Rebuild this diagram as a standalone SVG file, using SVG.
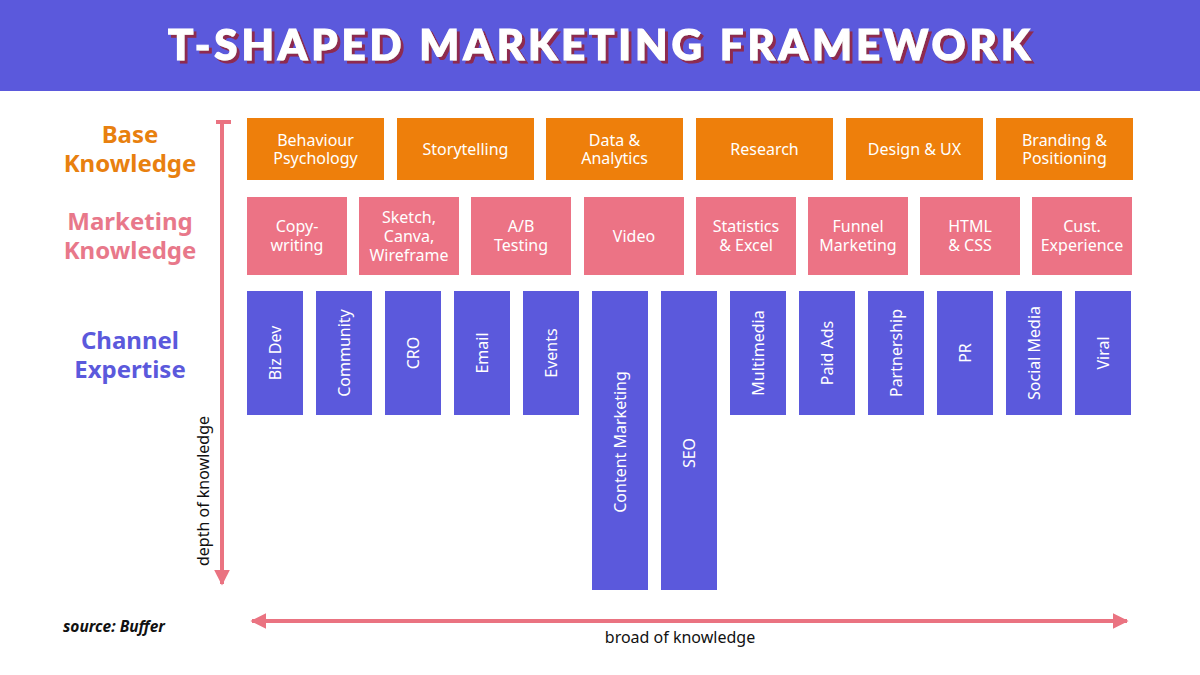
<svg xmlns="http://www.w3.org/2000/svg" width="1200" height="675" viewBox="0 0 1200 675">
<style>
.title{font-family:Lato,"DejaVu Sans",sans-serif;font-weight:900;font-size:42px;text-anchor:middle;fill:#fff;stroke:#fff;stroke-width:1.2}
.lbl{font-family:"Noto Sans","Open Sans",sans-serif;font-weight:700;font-size:24px;text-anchor:middle}
.bt{font-family:"Noto Sans","Open Sans",sans-serif;font-size:16px;fill:#fff;text-anchor:middle;dominant-baseline:central}
.ax{font-family:"Noto Sans","Open Sans",sans-serif;font-size:16px;fill:#111;text-anchor:middle}
.base{fill:#EE7F0B}
.mkt{fill:#EC7385}
.chn{fill:#5B59DC}
.arr{stroke:#EA7381;stroke-width:4;fill:none}
</style>
<defs>
<marker id="ah" viewBox="0 0 10 10" refX="9" refY="5" markerWidth="4" markerHeight="4" orient="auto-start-reverse" markerUnits="strokeWidth">
<path d="M0,0 L10,5 L0,10 Z" fill="#EA7381"/>
</marker>
<filter id="shadow" x="-5%" y="-30%" width="110%" height="160%">
<feOffset in="SourceAlpha" dx="3" dy="3" result="o"/>
<feFlood flood-color="#8E2A50"/>
<feComposite in2="o" operator="in" result="s"/>
<feMerge><feMergeNode in="s"/><feMergeNode in="SourceGraphic"/></feMerge>
</filter>
</defs>
<rect width="1200" height="675" fill="#fff"/>
<rect width="1200" height="91" fill="#5B59DC"/>
<g id="title">
<text class="title" x="599" y="60" textLength="862" lengthAdjust="spacing" filter="url(#shadow)">T-SHAPED MARKETING FRAMEWORK</text>
</g>
<g id="row-labels">
<text class="lbl" fill="#E8800F"><tspan x="130" y="143">Base</tspan><tspan x="130" y="172">Knowledge</tspan></text>
<text class="lbl" fill="#E8788A"><tspan x="130" y="230">Marketing</tspan><tspan x="130" y="259">Knowledge</tspan></text>
<text class="lbl" fill="#5B59DC"><tspan x="130" y="349">Channel</tspan><tspan x="130" y="378">Expertise</tspan></text>
</g>
<g id="connectors">
<line class="arr" x1="222" y1="122" x2="222" y2="584" marker-end="url(#ah)"/>
<line x1="216" y1="122" x2="231" y2="122" stroke="#EA7381" stroke-width="4"/>
<line class="arr" x1="252" y1="621" x2="1127" y2="621" marker-start="url(#ah)" marker-end="url(#ah)"/>
</g>
<g id="axis-labels">
<text class="ax" transform="translate(209,491) rotate(-90)">depth of knowledge</text>
<text class="ax" x="680" y="643">broad of knowledge</text>
<text x="63" y="632" font-family="'Noto Sans','Open Sans',sans-serif" font-size="15.5" font-weight="700" font-style="italic" fill="#111">source: Buffer</text>
</g>
<g id="base-knowledge">
<g id="b1"><rect class="base" x="247" y="118" width="137" height="62"/><text class="bt"><tspan x="315.5" y="140">Behaviour</tspan><tspan x="315.5" y="158">Psychology</tspan></text></g>
<g id="b2"><rect class="base" x="397" y="118" width="137" height="62"/><text class="bt" x="465.5" y="149">Storytelling</text></g>
<g id="b3"><rect class="base" x="546" y="118" width="137" height="62"/><text class="bt"><tspan x="614.5" y="140">Data &amp;</tspan><tspan x="614.5" y="158">Analytics</tspan></text></g>
<g id="b4"><rect class="base" x="696" y="118" width="137" height="62"/><text class="bt" x="764.5" y="149">Research</text></g>
<g id="b5"><rect class="base" x="846" y="118" width="137" height="62"/><text class="bt" x="914.5" y="149">Design &amp; UX</text></g>
<g id="b6"><rect class="base" x="996" y="118" width="137" height="62"/><text class="bt"><tspan x="1064.5" y="140">Branding &amp;</tspan><tspan x="1064.5" y="158">Positioning</tspan></text></g>
</g>
<g id="marketing-knowledge">
<g id="m1"><rect class="mkt" x="247" y="197" width="100" height="78"/><text class="bt"><tspan x="297" y="226">Copy-</tspan><tspan x="297" y="245">writing</tspan></text></g>
<g id="m2"><rect class="mkt" x="359" y="197" width="100" height="78"/><text class="bt"><tspan x="409" y="217">Sketch,</tspan><tspan x="409" y="236">Canva,</tspan><tspan x="409" y="255">Wireframe</tspan></text></g>
<g id="m3"><rect class="mkt" x="471" y="197" width="100" height="78"/><text class="bt"><tspan x="521" y="226">A/B</tspan><tspan x="521" y="245">Testing</tspan></text></g>
<g id="m4"><rect class="mkt" x="584" y="197" width="100" height="78"/><text class="bt" x="634" y="236">Video</text></g>
<g id="m5"><rect class="mkt" x="696" y="197" width="100" height="78"/><text class="bt"><tspan x="746" y="226">Statistics</tspan><tspan x="746" y="245">&amp; Excel</tspan></text></g>
<g id="m6"><rect class="mkt" x="808" y="197" width="100" height="78"/><text class="bt"><tspan x="858" y="226">Funnel</tspan><tspan x="858" y="245">Marketing</tspan></text></g>
<g id="m7"><rect class="mkt" x="920" y="197" width="100" height="78"/><text class="bt"><tspan x="970" y="226">HTML</tspan><tspan x="970" y="245">&amp; CSS</tspan></text></g>
<g id="m8"><rect class="mkt" x="1032" y="197" width="100" height="78"/><text class="bt"><tspan x="1082" y="226">Cust.</tspan><tspan x="1082" y="245">Experience</tspan></text></g>
</g>
<g id="channel-expertise">
<g id="c1"><rect class="chn" x="247" y="291" width="56" height="124"/><text class="bt" transform="translate(275,353) rotate(-90)">Biz Dev</text></g>
<g id="c2"><rect class="chn" x="316" y="291" width="56" height="124"/><text class="bt" transform="translate(344,353) rotate(-90)">Community</text></g>
<g id="c3"><rect class="chn" x="385" y="291" width="56" height="124"/><text class="bt" transform="translate(413,353) rotate(-90)">CRO</text></g>
<g id="c4"><rect class="chn" x="454" y="291" width="56" height="124"/><text class="bt" transform="translate(482,353) rotate(-90)">Email</text></g>
<g id="c5"><rect class="chn" x="523" y="291" width="56" height="124"/><text class="bt" transform="translate(551,353) rotate(-90)">Events</text></g>
<g id="c6"><rect class="chn" x="592" y="291" width="56" height="299"/><text class="bt" transform="translate(620,442) rotate(-90)">Content Marketing</text></g>
<g id="c7"><rect class="chn" x="661" y="291" width="56" height="299"/><text class="bt" transform="translate(689,453) rotate(-90)">SEO</text></g>
<g id="c8"><rect class="chn" x="730" y="291" width="56" height="124"/><text class="bt" transform="translate(758,353) rotate(-90)">Multimedia</text></g>
<g id="c9"><rect class="chn" x="799" y="291" width="56" height="124"/><text class="bt" transform="translate(827,353) rotate(-90)">Paid Ads</text></g>
<g id="c10"><rect class="chn" x="868" y="291" width="56" height="124"/><text class="bt" transform="translate(896,353) rotate(-90)">Partnership</text></g>
<g id="c11"><rect class="chn" x="937" y="291" width="56" height="124"/><text class="bt" transform="translate(965,353) rotate(-90)">PR</text></g>
<g id="c12"><rect class="chn" x="1006" y="291" width="56" height="124"/><text class="bt" transform="translate(1034,353) rotate(-90)">Social Media</text></g>
<g id="c13"><rect class="chn" x="1075" y="291" width="56" height="124"/><text class="bt" transform="translate(1103,353) rotate(-90)">Viral</text></g>
</g>
</svg>
